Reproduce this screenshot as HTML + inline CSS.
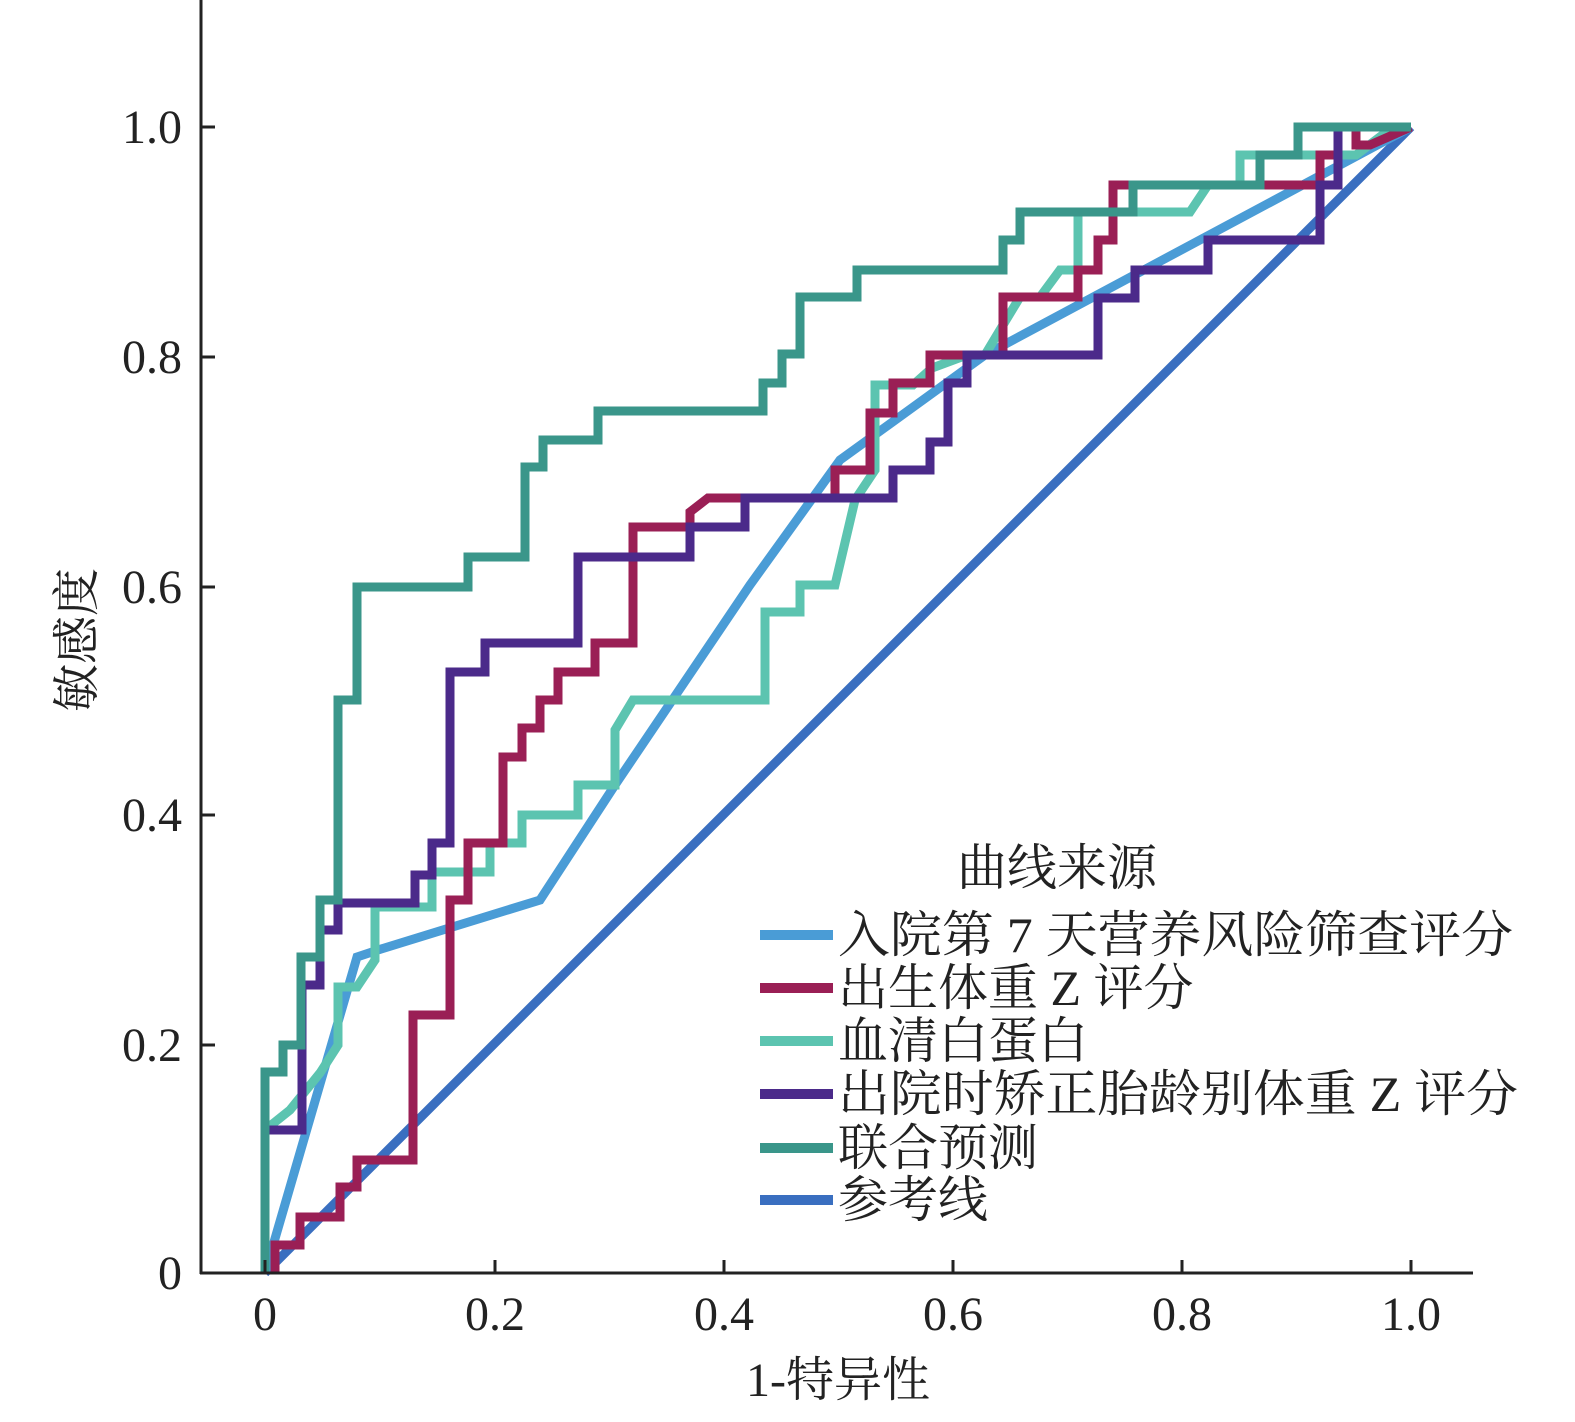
<!DOCTYPE html>
<html><head><meta charset="utf-8"><style>
html,body{margin:0;padding:0;background:#fff;}
svg text{font-family:"Liberation Serif","Noto Serif CJK SC",serif;fill:#222;}
</style></head><body>
<svg width="1575" height="1417" viewBox="0 0 1575 1417" xmlns="http://www.w3.org/2000/svg">
<g fill="none" stroke-width="9" stroke-linejoin="miter">
<polyline stroke="#3a6fc0" points="265,1273 1411,127"/>
<polyline stroke="#4a9cd6" points="265,1273 357,957 378,950 540,900 615,785 750,585 840,460 985,355 1411,127"/>
<polyline stroke="#5cc4b0" points="265,1273 265,1130 290,1110 320,1073 338,1045 338,987 357,987 375,960 375,907 432,907 432,872 490,872 490,843 522,843 522,815 578,815 578,785 615,785 615,730 633,700 765,700 765,612 800,612 800,585 835,585 855,500 875,470 875,385 913,385 932,368 967,355 985,355 1003,325 1020,297 1040,297 1060,270 1078,270 1078,212 1190,212 1208,185 1240,185 1240,155 1356,155 1393,127 1411,127"/>
<polyline stroke="#9a1f55" points="275,1273 275,1245 300,1245 300,1217 340,1217 340,1187 357,1187 357,1160 413,1160 413,1015 450,1015 450,900 468,900 468,843 503,843 503,757 522,757 522,728 540,728 540,700 558,700 558,672 595,672 595,643 633,643 633,527 690,527 690,512 708,498 835,498 835,470 870,470 870,413 893,413 893,383 930,383 930,355 1003,355 1003,297 1078,297 1078,270 1098,270 1098,240 1113,240 1113,185 1320,185 1320,155 1338,155 1338,127 1356,127 1356,145 1370,145 1411,127"/>
<polyline stroke="#4b2a8a" points="265,1130 302,1130 302,985 320,985 320,930 338,930 338,903 415,903 415,875 432,875 432,843 450,843 450,672 485,672 485,643 578,643 578,557 690,557 690,527 745,527 745,498 893,498 893,470 930,470 930,442 948,442 948,383 967,383 967,355 1098,355 1098,298 1135,298 1135,270 1208,270 1208,240 1320,240 1320,185 1338,185 1338,127 1411,127"/>
<polyline stroke="#3a968a" points="265,1273 265,1072 283,1072 283,1045 301,1045 301,957 320,957 320,900 338,900 338,700 357,700 357,587 468,587 468,557 525,557 525,467 543,467 543,440 598,440 598,411 763,411 763,383 782,383 782,354 800,354 800,297 857,297 857,270 1003,270 1003,240 1020,240 1020,212 1133,212 1133,185 1260,185 1260,155 1298,155 1298,127 1411,127"/>
</g>
<g stroke="#222" stroke-width="3">
<line x1="201" y1="0" x2="201" y2="1274"/>
<line x1="200" y1="1273" x2="1473" y2="1273"/>
<line x1="201" y1="127" x2="215" y2="127"/><line x1="201" y1="357" x2="215" y2="357"/><line x1="201" y1="587" x2="215" y2="587"/><line x1="201" y1="815" x2="215" y2="815"/><line x1="201" y1="1045" x2="215" y2="1045"/>
<line x1="265" y1="1273" x2="265" y2="1260"/><line x1="495" y1="1273" x2="495" y2="1260"/><line x1="724" y1="1273" x2="724" y2="1260"/><line x1="953" y1="1273" x2="953" y2="1260"/><line x1="1182" y1="1273" x2="1182" y2="1260"/><line x1="1411" y1="1273" x2="1411" y2="1260"/>
</g>
<g font-size="48" text-anchor="end">
<text x="182" y="143">1.0</text><text x="182" y="373">0.8</text><text x="182" y="603">0.6</text><text x="182" y="831">0.4</text><text x="182" y="1061">0.2</text><text x="182" y="1289">0</text>
</g>
<g font-size="48" text-anchor="middle">
<text x="265" y="1330">0</text><text x="495" y="1330">0.2</text><text x="724" y="1330">0.4</text><text x="953" y="1330">0.6</text><text x="1182" y="1330">0.8</text><text x="1411" y="1330">1.0</text>
<text x="838" y="1396">1-特异性</text>
<text transform="translate(93,640) rotate(-90)">敏感度</text>
<text x="1057" y="885" font-size="50">曲线来源</text>
</g>
<g stroke-width="10">
<line x1="760" y1="935" x2="833" y2="935" stroke="#4a9cd6"/>
<line x1="760" y1="988" x2="833" y2="988" stroke="#9a1f55"/>
<line x1="760" y1="1041" x2="833" y2="1041" stroke="#5cc4b0"/>
<line x1="760" y1="1094" x2="833" y2="1094" stroke="#4b2a8a"/>
<line x1="760" y1="1148" x2="833" y2="1148" stroke="#3a968a"/>
<line x1="760" y1="1200" x2="833" y2="1200" stroke="#3a6fc0"/>
</g>
<g font-size="50">
<text x="838" y="952" textLength="675" lengthAdjust="spacingAndGlyphs">入院第 7 天营养风险筛查评分</text>
<text x="838" y="1005">出生体重 Z 评分</text>
<text x="838" y="1058">血清白蛋白</text>
<text x="838" y="1111" textLength="680" lengthAdjust="spacingAndGlyphs">出院时矫正胎龄别体重 Z 评分</text>
<text x="838" y="1165">联合预测</text>
<text x="838" y="1217">参考线</text>
</g>
</svg>
</body></html>
